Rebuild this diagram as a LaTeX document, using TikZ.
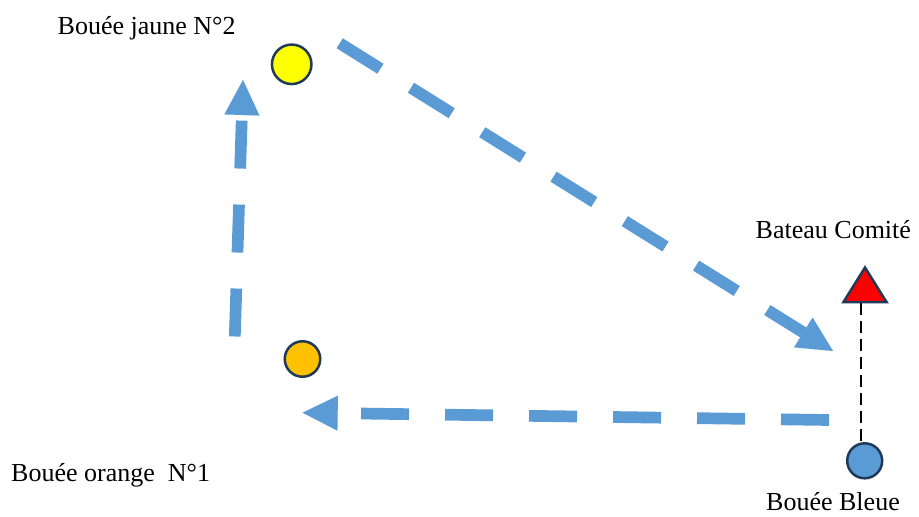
\documentclass[tikz,border=0pt]{standalone}
\usepackage{fontspec}
\setmainfont{Liberation Serif}
\usetikzlibrary{arrows.meta}
\definecolor{routeblue}{HTML}{5B9BD5}
\definecolor{edge}{HTML}{203A5A}
\definecolor{buoyyellow}{HTML}{FFFF00}
\definecolor{buoyorange}{HTML}{FFC000}
\definecolor{boatred}{HTML}{FF0000}
\tikzset{
  route/.style={draw=routeblue, line width=11.7pt, dash pattern=on 48pt off 36pt,
    -{Triangle[length=35pt,width=35pt,line width=0.01pt]}},
  buoy/.style={circle, draw=edge, line width=2.5pt, inner sep=0pt},
  lbl/.style={anchor=base west, inner sep=0pt, font=\fontsize{26}{30}\selectfont},
  link/.style={draw=black, line width=2pt, dash pattern=on 12pt off 6pt}
}
\begin{document}
\begin{tikzpicture}[x=1pt,y=-1pt]
\useasboundingbox (0,0) rectangle (919,517);
% buoys
\node[buoy, fill=buoyyellow, minimum size=39.5pt] (yellow) at (291.7,64.3) {};
\node[buoy, fill=buoyorange, minimum size=35.5pt] (orange) at (302.5,359) {};
\node[buoy, fill=routeblue, minimum size=35pt] (blue) at (864.7,460.8) {};
% committee boat
\draw[draw=edge, fill=boatred, line width=2.5pt, line join=miter]
  (843.5,302) -- (865,267.5) -- (886.5,302) -- cycle;
\coordinate (boat) at (861,303);
\coordinate (bluetop) at (861,442.5);
\draw[link] (boat) -- (bluetop);
% labels
\node[lbl] (lyellow) at (57.5,34.3) {Bouée jaune N°2};
\node[lbl] (lboat) at (755.5,238.3) {Bateau Comité};
\node[lbl] (lorange) at (11,481.3) {Bouée orange\ \ N°1};
\node[lbl] (lblue) at (766,510.5) {Bouée Bleue};
% route
\coordinate (r1s) at (234.8,336.5);
\coordinate (r1e) at (243,80);
\coordinate (r2s) at (339.7,43.3);
\coordinate (r2e) at (833,351);
\coordinate (r3s) at (829,420);
\coordinate (r3e) at (302.7,412.7);
\draw[route] (r1s) -- (r1e);
\draw[route] (r2s) -- (r2e);
\draw[route] (r3s) -- (r3e);
\end{tikzpicture}
\end{document}
